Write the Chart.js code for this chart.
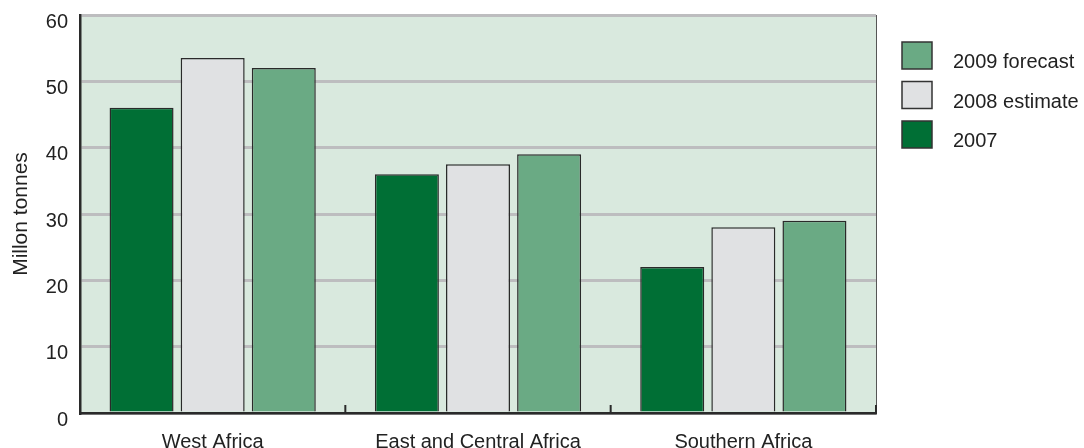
<!DOCTYPE html>
<html>
<head>
<meta charset="utf-8">
<script src="https://cdn.jsdelivr.net/npm/chart.js@4"></script>
<style>
  html, body { margin: 0; padding: 0; background: #fff; }
  #wrap { width: 1084px; height: 448px; }
</style>
</head>
<body>
<div id="wrap"><canvas id="grafico"></canvas></div>
<script>
const regiones = ["West Africa", "East and Central Africa", "Southern Africa"];
const datos2007 = [46, 36, 22];
const estimado2008 = [53.5, 37.5, 28];
const prevision2009 = [52, 39, 29];
const yTicks = [0, 10, 20, 30, 40, 50, 60];

const fuente = "'Liberation Sans', Arial, sans-serif";

// fondo verde del área y marcas de separación entre grupos
const fondo = {
    id: "fondo",
    beforeDraw(chart) {
        const { ctx, chartArea: a } = chart;
        ctx.save();
        ctx.fillStyle = "#d9e9de";
        ctx.fillRect(a.left, a.top, a.right - a.left, a.bottom - a.top);
        ctx.restore();
    },
    afterDraw(chart) {
        const { ctx, chartArea: a } = chart;
        const x = chart.scales.x;
        ctx.save();
        ctx.strokeStyle = "#555";
        ctx.lineWidth = 1;
        ctx.beginPath();
        ctx.moveTo(a.right + 0.5, a.top);
        ctx.lineTo(a.right + 0.5, a.bottom);
        ctx.stroke();
        ctx.strokeStyle = "#2a2a2a";
        ctx.lineWidth = 2;
        ctx.beginPath();
        for (let i = 0; i < regiones.length; i++) {
            const px = i < regiones.length - 1
                ? (x.getPixelForValue(i) + x.getPixelForValue(i + 1)) / 2
                : a.right;
            ctx.moveTo(px, a.bottom);
            ctx.lineTo(px, a.bottom - 8);
        }
        ctx.stroke();

        // leyenda a la derecha, orden invertido
        const sets = chart.data.datasets.slice().reverse();
        ctx.font = "20px " + fuente;
        ctx.textBaseline = "alphabetic";
        sets.forEach((ds, i) => {
            const y = 42 + i * 39.5;
            ctx.fillStyle = ds.backgroundColor;
            ctx.fillRect(902, y, 30, 27);
            ctx.strokeStyle = "#333";
            ctx.lineWidth = 1.5;
            ctx.strokeRect(902, y, 30, 27);
            ctx.fillStyle = "#222";
            ctx.fillText(ds.label, 953, y + 26);
        });
        ctx.restore();
    }
};

new Chart("grafico", {
    type: "bar",
    data: {
        labels: regiones,
        datasets: [
            { label: "2007", data: datos2007, backgroundColor: "#006f35" },
            { label: "2008 estimate", data: estimado2008, backgroundColor: "#e0e1e3" },
            { label: "2009 forecast", data: prevision2009, backgroundColor: "#6aaa84" }
        ]
    },
    options: {
        responsive: true,
        maintainAspectRatio: false,
        animation: false,
        layout: { padding: { top: 15, right: 208, left: 0, bottom: 0 } },
        datasets: {
            bar: {
                borderColor: "#2a2a2a",
                borderWidth: 1.5,
                categoryPercentage: 0.804,
                barPercentage: 0.9
            }
        },
        plugins: {
            legend: { display: false },
            tooltip: { enabled: false }
        },
        scales: {
            x: {
                grid: { display: false },
                border: { color: "#2a2a2a", width: 2.5 },
                ticks: { color: "#222", font: { family: fuente, size: 20 }, padding: 9 },
                afterFit(scale) { scale.height = 35; }
            },
            y: {
                min: 0,
                max: 60,
                afterBuildTicks(scale) { scale.ticks = yTicks.map(v => ({ value: v })); },
                grid: { color: "#bdbdbf", lineWidth: 3, drawTicks: false },
                border: { color: "#2a2a2a", width: 2.5 },
                ticks: {
                    color: "#222",
                    font: { family: fuente, size: 20 },
                    padding: 12,
                    labelOffset: 7
                },
                title: {
                    display: true,
                    text: "Millon tonnes",
                    color: "#222",
                    font: { family: fuente, size: 21 },
                    padding: { top: 9, bottom: 0 }
                },
                afterFit(scale) {
                    scale.width = 80;
                    scale.paddingTop = 0;
                    scale.paddingBottom = 0;
                }
            }
        }
    },
    plugins: [fondo]
});
</script>
</body>
</html>
